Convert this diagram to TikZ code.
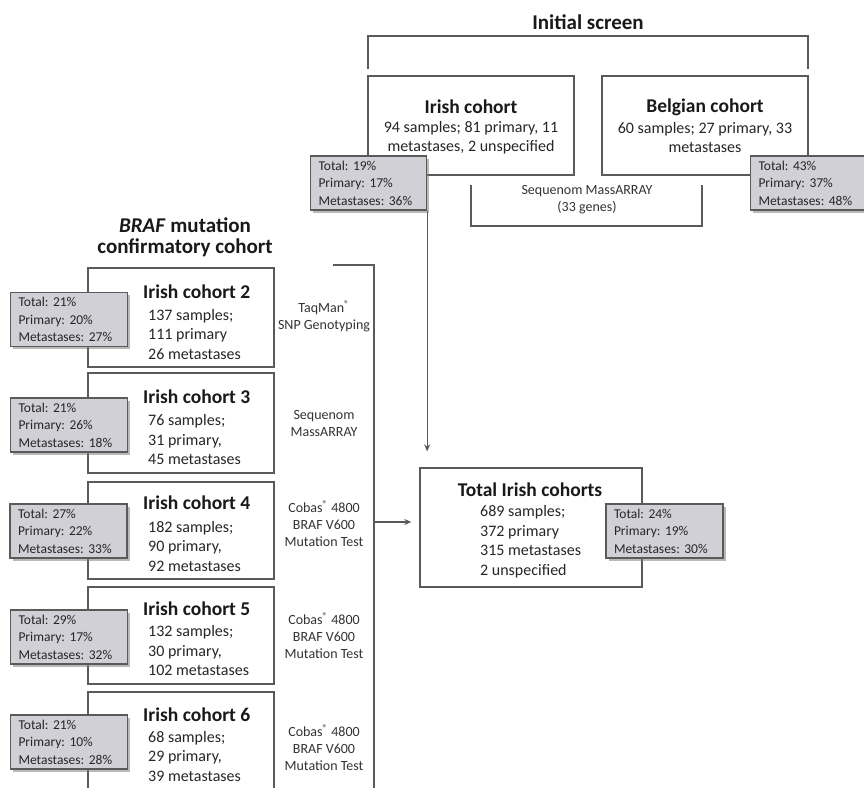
\documentclass[tikz,border=0pt]{standalone}
\usepackage{fontspec}
\setmainfont{Carlito}
\frenchspacing
\usetikzlibrary{arrows.meta,shadows}
\pgfdeclarelayer{edgelayer}
\pgfdeclarelayer{nodelayer}
\pgfsetlayers{edgelayer,nodelayer,main}
\definecolor{boxline}{RGB}{90,90,90}
\definecolor{statfill}{RGB}{208,208,214}
\tikzstyle{none}=[inner sep=0pt]
\tikzstyle{connector}=[draw=boxline, line width=1.2pt]
\tikzstyle{cohort}=[rectangle, draw=boxline, line width=1.3pt, fill=white, minimum width=186pt, minimum height=99pt, inner sep=0pt]
\tikzstyle{stat}=[rectangle, draw=boxline, line width=1.3pt, fill=statfill, text=black!85, text width=101pt, align=left, inner xsep=8pt, inner ysep=0pt, minimum height=54pt, font=\fontsize{13.5}{17.5}\selectfont, drop shadow={shadow xshift=2.5pt, shadow yshift=-2.5pt, opacity=0.55}]
\tikzstyle{heading}=[inner sep=0pt, align=center, text=black!90, font=\bfseries\fontsize{21}{21}\selectfont]
\tikzstyle{title}=[inner sep=0pt, text=black!90, font=\bfseries\fontsize{19.5}{23}\selectfont]
\tikzstyle{body}=[inner sep=0pt, text=black!85, font=\fontsize{16}{19.5}\selectfont]
\tikzstyle{method}=[inner sep=0pt, align=center, text=black!80, font=\fontsize{14}{17}\selectfont]

\begin{document}
\begin{tikzpicture}[x=1pt, y=-1pt]
	\useasboundingbox (0,0) rectangle (864,787);
	\begin{pgfonlayer}{nodelayer}
	% initial screen
	\node [style=heading] (0) at (588, 22) {Initial screen};
	\node [style=cohort, minimum width=206pt] (1) at (471, 125.5) {};
	\node [style=title] (2) at (471, 107) {Irish cohort};
	\node [style=body, align=center] (3) at (471, 137.5) {94 samples; 81 primary, 11\\metastases, 2 unspecified};
	\node [style=stat, text width=100pt] (4) at (368.5, 183) {Total: 19\%\\Primary: 17\%\\Metastases: 36\%};
	\node [style=cohort, minimum width=206pt] (5) at (705, 125.5) {};
	\node [style=title] (6) at (705, 107) {Belgian cohort};
	\node [style=body, align=center] (7) at (705, 137.5) {60 samples; 27 primary, 33\\metastases};
	\node [style=stat] (8) at (809, 183) {Total: 43\%\\Primary: 37\%\\Metastases: 48\%};
	\node [style=none] (9) at (368, 69) {};
	\node [style=none] (10) at (368, 36) {};
	\node [style=none] (11) at (808, 36) {};
	\node [style=none] (12) at (808, 69) {};
	\node [style=none] (13) at (471, 185) {};
	\node [style=none] (14) at (702, 185) {};
	\node [style=none] (15) at (471, 226) {};
	\node [style=none] (16) at (702, 226) {};
	\node [style=method] (17) at (587, 200) {Sequenom MassARRAY\\(33 genes)};
	% confirmatory cohorts
	\node [style=heading] (18) at (185, 237) {\textit{BRAF} mutation\\confirmatory cohort};
	\node [style=cohort] (20) at (181, 317.5) {};
	\node [style=cohort, minimum height=100pt] (21) at (181, 423) {};
	\node [style=cohort, minimum height=97pt] (22) at (181, 530.5) {};
	\node [style=cohort, minimum height=97pt] (23) at (181, 635.5) {};
	\node [style=cohort] (24) at (181, 741.5) {};
	\node [style=title, anchor=west] (25) at (143, 292) {Irish cohort 2};
	\node [style=title, anchor=west] (26) at (143, 397) {Irish cohort 3};
	\node [style=title, anchor=west] (27) at (143, 503) {Irish cohort 4};
	\node [style=title, anchor=west] (28) at (143, 609) {Irish cohort 5};
	\node [style=title, anchor=west] (29) at (143, 715) {Irish cohort 6};
	\node [style=body, align=left, anchor=west] (30) at (148, 334) {137 samples;\\111 primary\\26 metastases};
	\node [style=body, align=left, anchor=west] (31) at (148, 439.5) {76 samples;\\31 primary,\\45 metastases};
	\node [style=body, align=left, anchor=west] (32) at (148, 546) {182 samples;\\90 primary,\\92 metastases};
	\node [style=body, align=left, anchor=west] (33) at (148, 650.5) {132 samples;\\30 primary,\\102 metastases};
	\node [style=body, align=left, anchor=west] (34) at (148, 756) {68 samples;\\29 primary,\\39 metastases};
	\node [style=stat] (35) at (69, 319.5) {Total: 21\%\\Primary: 20\%\\Metastases: 27\%};
	\node [style=stat] (36) at (69, 425) {Total: 21\%\\Primary: 26\%\\Metastases: 18\%};
	\node [style=stat] (37) at (68.5, 531) {Total: 27\%\\Primary: 22\%\\Metastases: 33\%};
	\node [style=stat] (38) at (69, 637) {Total: 29\%\\Primary: 17\%\\Metastases: 32\%};
	\node [style=stat] (39) at (69, 742) {Total: 21\%\\Primary: 10\%\\Metastases: 28\%};
	\node [style=method] (40) at (324, 316.5) {TaqMan\textsuperscript{®}\\SNP Genotyping};
	\node [style=method] (41) at (324, 423.5) {Sequenom\\MassARRAY};
	\node [style=method] (42) at (324, 523.5) {Cobas\textsuperscript{®} 4800\\BRAF V600\\Mutation Test};
	\node [style=method] (43) at (324, 635.5) {Cobas\textsuperscript{®} 4800\\BRAF V600\\Mutation Test};
	\node [style=method] (44) at (324, 748) {Cobas\textsuperscript{®} 4800\\BRAF V600\\Mutation Test};
	\node [style=none] (45) at (333, 265) {};
	\node [style=none] (46) at (374, 265) {};
	\node [style=none] (47) at (374, 800) {};
	\node [style=none] (48) at (374, 522) {};
	% total
	\node [style=cohort, minimum width=222pt, minimum height=119pt] (49) at (531, 527.5) {};
	\node [style=title] (50) at (530, 490) {Total Irish cohorts};
	\node [style=body, align=left, anchor=west] (51) at (480, 541.5) {689 samples;\\372 primary\\315 metastases\\2 unspecified};
	\node [style=stat] (52) at (664.5, 531) {Total: 24\%\\Primary: 19\%\\Metastases: 30\%};
	\end{pgfonlayer}
	\begin{pgfonlayer}{edgelayer}
	\fill [white] (0,0) rectangle (864,787);
	\draw [style=connector] (9.center) to (10.center) to (11.center) to (12.center);
	\draw [style=connector] (13.center) to (15.center) to (16.center) to (14.center);
	\draw [style=connector] (45.center) to (46.center) to (47.center);
	\draw [style=connector, -{Stealth[length=7pt, width=6pt]}, shorten >=16pt] (4.south east) to (4.south east |- 49.north);
	\draw [style=connector, -{Stealth[length=7pt, width=6pt]}, shorten >=8pt] (48.center) to (48.center -| 49.west);
	\end{pgfonlayer}
\end{tikzpicture}
\end{document}
